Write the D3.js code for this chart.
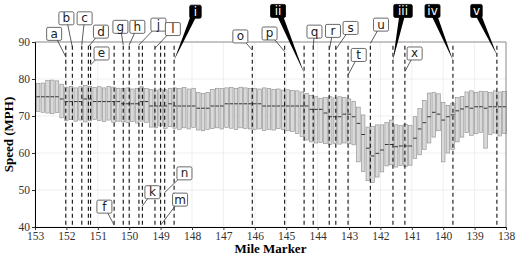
<!DOCTYPE html>
<html>
<head>
<meta charset="utf-8">
<script src="https://cdn.jsdelivr.net/npm/d3@7"></script>
<style>
body { margin: 0; background: #fff; }
</style>
</head>
<body>
<div id="chart"></div>
<script>
const W = 517, H = 259;
const MARGIN = {top: 42, right: 11, bottom: 32, left: 35};

// one box every 0.15 mile
const boxMiles = [152.9, 152.75, 152.6, 152.45, 152.3, 152.15, 152.0, 151.85, 151.7, 151.55,
  151.4, 151.25, 151.1, 150.95, 150.8, 150.65, 150.5, 150.35, 150.2, 150.05,
  149.9, 149.75, 149.6, 149.45, 149.3, 149.15, 149.0, 148.85, 148.7, 148.55,
  148.4, 148.25, 148.1, 147.95, 147.8, 147.65, 147.5, 147.35, 147.2, 147.05,
  146.9, 146.75, 146.6, 146.45, 146.3, 146.15, 146.0, 145.85, 145.7, 145.55,
  145.4, 145.25, 145.1, 144.95, 144.8, 144.65, 144.5, 144.35, 144.2, 144.05,
  143.9, 143.75, 143.6, 143.45, 143.3, 143.15, 143.0, 142.85, 142.7, 142.55,
  142.4, 142.25, 142.1, 141.95, 141.8, 141.65, 141.5, 141.35, 141.2, 141.05,
  140.9, 140.75, 140.6, 140.45, 140.3, 140.15, 140.0, 139.85, 139.7, 139.55,
  139.4, 139.25, 139.1, 138.95, 138.8, 138.65, 138.5, 138.35, 138.2, 138.05];

const boxLow = [71.2, 71.0, 70.8, 70.6, 70.9, 69.5,
  68.8, 69.0, 68.6, 68.9, 68.4, 68.7, 69.1, 68.8, 68.5, 68.9, 68.3, 68.6,
  68.4, 68.2, 68.5, 68.1, 68.6, 68.3,
  67.0, 66.8, 67.3, 66.6, 67.1,
  66.7, 66.4, 66.8, 66.5, 66.9,
  66.2, 66.0, 66.4,
  66.6, 66.8, 66.5, 66.9, 66.7, 66.4, 66.8, 66.6, 66.5,
  66.3, 66.5, 66.1, 66.4, 66.2, 66.6, 66.3, 66.0,
  65.8, 65.3, 64.5, 63.5,
  63.0, 62.7, 62.8,
  62.5, 62.3, 62.6, 62.4, 62.7, 62.5, 62.2,
  57.6, 55.0, 52.5, 52.0, 53.5, 54.9,
  56.5, 56.8, 56.2, 56.6, 56.4, 56.7,
  58.5, 59.5, 61.0, 62.7, 64.3, 66.0, 57.6, 60.0, 61.0, 63.0, 64.3,
  65.5, 64.8, 65.2, 65.6, 61.3, 65.0, 65.4, 64.6, 65.3];

const boxMedian = [75.2, 75.2, 75.2, 75.2, 75.2, 74.6,
  73.9, 73.9, 73.9, 73.9, 74.6, 74.6,
  73.9, 73.9, 73.9, 73.9, 73.9, 73.9,
  73.3, 73.3, 73.3, 73.3, 73.9, 73.9,
  72.7, 72.7, 72.7, 72.7, 73.3,
  72.7, 72.7, 72.7, 72.7, 72.7,
  72.1, 72.1, 72.1, 72.7, 72.7, 72.7,
  73.3, 73.3, 73.3, 73.3, 73.3, 73.3, 73.3, 73.3,
  72.7, 72.7, 72.7, 72.7, 72.7, 72.7, 72.7, 72.7, 72.7, 72.7,
  71.8, 71.8, 71.8, 70.8, 69.8, 69.8, 69.8, 70.5, 70.5, 69.8,
  68.0, 65.0, 61.3, 59.2, 59.9, 60.8, 62.3, 62.3, 61.7, 61.9, 61.9, 61.9,
  64.0, 66.5, 68.2, 69.8, 71.0, 70.5, 68.9, 69.8, 70.3, 71.4, 71.9,
  72.5, 72.1, 72.5, 72.5, 72.1, 72.5, 72.5, 72.5, 72.5];

const boxHigh = [78.8, 78.9, 79.6, 79.7, 79.5, 78.6,
  77.8, 78.0, 77.6, 77.9, 78.2, 78.0, 77.7, 77.9, 77.6, 78.0, 77.8, 77.5,
  77.4, 77.6, 77.3, 77.5, 77.9, 77.4,
  77.2, 77.0, 77.3, 77.1, 77.5,
  77.6, 77.4, 77.7, 77.3, 77.5,
  76.3, 76.1, 76.4,
  77.2, 77.5, 77.4, 77.6, 77.7, 77.5, 77.8, 77.6, 77.4,
  77.5, 77.3, 77.6, 77.4, 77.2, 77.3, 77.0, 77.1,
  76.9, 76.8, 76.5, 76.1,
  75.6, 75.2, 74.8,
  75.0, 75.2, 74.9, 75.2, 75.0, 74.6, 74.0,
  72.4, 70.3, 67.0, 67.2, 67.6, 67.6, 68.2, 68.9,
  67.6, 67.4, 67.8, 67.5,
  69.8, 72.0, 74.2, 76.2, 76.3, 76.0, 73.6, 72.8, 73.5, 75.0, 75.3,
  76.5, 76.8, 76.4, 76.7, 76.6, 76.3, 76.8, 76.5, 76.6];

// marked locations (dashed lines) and their labels
const markNames = ["a", "b", "c", "d", "e", "f", "g", "h", "j", "k", "l", "m", "n", "i",
  "o", "p", "ii", "q", "r", "s", "t", "u", "iii", "x", "iv", "v"];
const markMiles = [152.02, 151.81, 151.51, 151.30, 151.23, 150.48, 150.19, 150.00, 149.69, 149.58,
  149.18, 149.00, 148.87, 148.57, 146.08, 145.05, 144.43, 144.14, 143.63, 143.42,
  143.03, 142.32, 141.60, 141.22, 139.69, 138.29];
const labelMiles = [152.39, 152.00, 151.42, 150.90, 150.88, 150.79, 150.28, 149.74, 149.07, 149.26,
  148.61, 148.38, 148.24, 147.89, 146.46, 145.53, 145.26, 144.10, 143.51, 142.95,
  142.69, 141.98, 141.28, 140.91, 140.34, 138.94];
const labelSpeeds = [92.2, 96.4, 96.4, 92.8, 86.9, 45.5, 94.1, 94.1, 94.7, 49.4,
  93.5, 47.4, 54.5, 98.2, 91.5, 92.3, 98.4, 92.8, 93.0, 93.8,
  86.5, 94.7, 98.4, 86.9, 98.4, 98.4];
const tipSpeeds = [86.0, 88.6, 89.2, 88.7, 83.8, 40.5, 89.2, 89.2, 89.2, 45.7,
  88.3, 40.5, 49.3, 85.1, 87.8, 87.4, 81.6, 88.7, 87.8, 88.0,
  81.1, 89.6, 85.1, 82.0, 85.1, 86.5];
const romanNames = ["i", "ii", "iii", "iv", "v"];

const xTicks = [153, 152, 151, 150, 149, 148, 147, 146, 145, 144, 143, 142, 141, 140, 139, 138];
const yTicks = [40, 50, 60, 70, 80, 90];

const boxes = boxMiles.map((m, i) => ({mile: m, lo: boxLow[i], med: boxMedian[i], hi: boxHigh[i]}));
const marks = markNames.map((n, i) => ({
  name: n, mile: markMiles[i], lx: labelMiles[i], ly: labelSpeeds[i], tip: tipSpeeds[i],
  roman: romanNames.includes(n)
}));

const x = d3.scaleLinear().domain([153, 138]).range([MARGIN.left, W - MARGIN.right]);
const y = d3.scaleLinear().domain([40, 90]).range([H - MARGIN.bottom, MARGIN.top]);

const svg = d3.select("#chart").append("svg")
  .attr("width", W)
  .attr("height", H)
  .style("font-family", "'Liberation Serif', serif");

// grid
svg.append("g").selectAll("line").data(xTicks).join("line")
  .attr("x1", d => x(d)).attr("x2", d => x(d))
  .attr("y1", y(40)).attr("y2", y(90))
  .attr("stroke", "#ebebeb").attr("stroke-width", 0.8);
svg.append("g").selectAll("line").data(yTicks).join("line")
  .attr("x1", x(153)).attr("x2", x(138))
  .attr("y1", d => y(d)).attr("y2", d => y(d))
  .attr("stroke", "#ebebeb").attr("stroke-width", 0.8);

// boxes
const bw = 3.6;
const G_BOX = svg.append("g");
G_BOX.selectAll("rect").data(boxes).join("rect")
  .attr("x", d => x(d.mile) - bw / 2)
  .attr("y", d => y(d.hi))
  .attr("width", bw)
  .attr("height", d => y(d.lo) - y(d.hi))
  .attr("fill", "#d9d9d9")
  .attr("stroke", "#8a8a8a")
  .attr("stroke-width", 0.6);
G_BOX.selectAll("line").data(boxes).join("line")
  .attr("x1", d => x(d.mile) - bw / 2)
  .attr("x2", d => x(d.mile) + bw / 2)
  .attr("y1", d => y(d.med)).attr("y2", d => y(d.med))
  .attr("stroke", "#333").attr("stroke-width", 1);

// dashed marker lines
svg.append("g").selectAll("line").data(marks).join("line")
  .attr("x1", d => x(d.mile)).attr("x2", d => x(d.mile))
  .attr("y1", y(89)).attr("y2", y(40))
  .attr("stroke", "#111")
  .attr("stroke-width", 1.1)
  .attr("stroke-dasharray", "4,3");

// panel border (top/right)
svg.append("path")
  .attr("d", `M${x(153)},${y(90)}H${x(138)}V${y(40)}`)
  .attr("fill", "none").attr("stroke", "#777").attr("stroke-width", 0.8);

// axes
const xAxis = svg.append("g")
  .attr("transform", `translate(0,${y(40)})`)
  .call(d3.axisBottom(x).tickValues(xTicks).tickFormat(d3.format("d")).tickSize(3).tickPadding(2));
const yAxis = svg.append("g")
  .attr("transform", `translate(${x(153)},0)`)
  .call(d3.axisLeft(y).tickValues(yTicks).tickSize(3).tickPadding(2));
[xAxis, yAxis].forEach(a => {
  a.select(".domain").attr("stroke", "#000").attr("stroke-width", 1);
  a.selectAll(".tick line").attr("stroke", "#333");
  a.selectAll(".tick text")
    .attr("fill", "#333")
    .style("font-family", "'Liberation Serif', serif")
    .style("font-size", "11.5px");
});

svg.append("text")
  .attr("x", (x(153) + x(138)) / 2)
  .attr("y", 253)
  .attr("text-anchor", "middle")
  .style("font-weight", "bold")
  .style("font-size", "13px")
  .text("Mile Marker");
svg.append("text")
  .attr("transform", `translate(13,${(y(40) + y(90)) / 2}) rotate(-90)`)
  .attr("text-anchor", "middle")
  .style("font-weight", "bold")
  .style("font-size", "13px")
  .text("Speed (MPH)");

// labels
const G_LAB = svg.append("g").style("font-family", "'DejaVu Sans', sans-serif");

marks.forEach(d => {
  const cx = x(d.lx), cy = y(d.ly);
  const tx = x(d.mile), ty = y(d.tip);
  if (d.roman) {
    const ang = Math.atan2(ty - cy, tx - cx);
    const px = Math.sin(ang) * 3, py = -Math.cos(ang) * 3;
    G_LAB.append("path")
      .attr("d", `M${cx + px},${cy + py}L${cx - px},${cy - py}L${tx},${ty}Z`)
      .attr("fill", "#000");
  } else {
    G_LAB.append("line")
      .attr("x1", cx).attr("y1", cy).attr("x2", tx).attr("y2", ty)
      .attr("stroke", "#333").attr("stroke-width", 0.8);
  }
});

marks.forEach(d => {
  const cx = x(d.lx), cy = y(d.ly);
  const w = d.roman ? 8 + d.name.length * 3.5 : 15;
  const h = 13;
  G_LAB.append("rect")
    .attr("x", cx - w / 2).attr("y", cy - h / 2)
    .attr("width", w).attr("height", h)
    .attr("rx", 1.5)
    .attr("fill", d.roman ? "#000" : "#fff")
    .attr("stroke", d.roman ? "#000" : "#444")
    .attr("stroke-width", 0.8);
  G_LAB.append("text")
    .attr("x", cx).attr("y", cy + 4)
    .attr("text-anchor", "middle")
    .attr("fill", d.roman ? "#fff" : "#222")
    .style("font-size", "12px")
    .text(d.name);
});
</script>
</body>
</html>
